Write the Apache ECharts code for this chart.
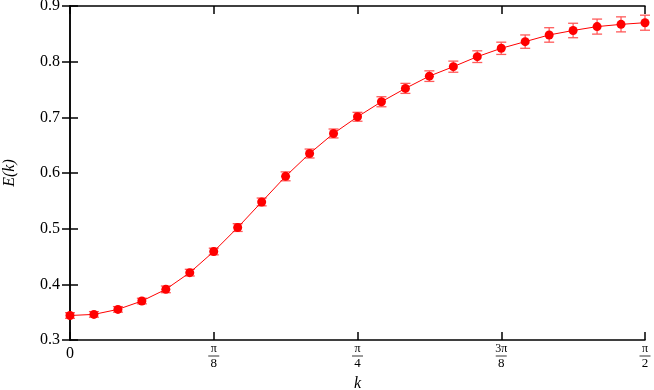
<!DOCTYPE html>
<html>
<head>
<meta charset="utf-8">
<script src="https://cdn.jsdelivr.net/npm/echarts@6/dist/echarts.min.js"></script>
<style>
  html, body { margin: 0; padding: 0; background: #fff; }
  #chart { width: 654px; height: 390px; }
</style>
</head>
<body>
<div id="chart"></div>
<script>
/* E(k) against k, with error bars */

// k in radians, steps of pi/48 from 0 to pi/2
const kValues = [0, 0.0654, 0.1309, 0.1963, 0.2618, 0.3272, 0.3927, 0.4581, 0.5236,
  0.5890, 0.6545, 0.7199, 0.7854, 0.8508, 0.9163, 0.9817, 1.0472, 1.1126, 1.1781,
  1.2435, 1.3090, 1.3744, 1.4399, 1.5053, 1.5708];
const energy = [0.344, 0.346, 0.355, 0.370, 0.391, 0.421, 0.459, 0.502, 0.548,
  0.594, 0.635, 0.671, 0.701, 0.728, 0.752, 0.774, 0.791, 0.809, 0.824,
  0.836, 0.848, 0.856, 0.863, 0.867, 0.870];
const errors = [0.005, 0.005, 0.005, 0.005, 0.006, 0.006, 0.006, 0.007, 0.007,
  0.008, 0.008, 0.008, 0.008, 0.009, 0.009, 0.0095, 0.010, 0.0105, 0.011,
  0.012, 0.013, 0.013, 0.0135, 0.0135, 0.0135];
const xTickNum = ["0", "π", "π", "3π", "π"];
const xTickDen = ["", "8", "4", "8", "2"];

const FONT = "'Liberation Serif', 'DejaVu Serif', serif";
const RED = "#ff0000";
const ERR_RED = "#ff5a5a";

const chart = echarts.init(document.getElementById("chart"), null, { renderer: "canvas" });

function xLabel(v) {
  const i = Math.round(v / 0.3927);
  if (i === 0) return "{z|0}";
  return "{n|" + xTickNum[i] + "}\n{b| }\n{d|" + xTickDen[i] + "}";
}

const axisLine = { show: true, lineStyle: { color: "#000", width: 1.5 } };
const tickIn = { show: true, inside: true, length: 8, lineStyle: { color: "#000", width: 1.5 } };

chart.setOption({
  animation: false,
  grid: { left: 70, right: 9, top: 6, bottom: 50, outerBoundsMode: "none" },
  xAxis: [{
    type: "value", min: 0, max: 1.5708, interval: 0.3927,
    axisLine, axisTick: tickIn, splitLine: { show: false },
    name: "k", nameLocation: "middle", nameGap: 34,
    nameTextStyle: { fontFamily: FONT, fontStyle: "italic", fontSize: 16, color: "#000" },
    axisLabel: {
      margin: 4, formatter: xLabel, color: "#000",
      rich: {
        z: { fontFamily: FONT, fontSize: 16, lineHeight: 17, padding: [2, 0, 0, 0] },
        n: { fontFamily: FONT, fontSize: 12, lineHeight: 10, align: "center" },
        b: { width: 11, height: 0.8, lineHeight: 4, backgroundColor: "#000", align: "center", fontSize: 1 },
        d: { fontFamily: FONT, fontSize: 13, lineHeight: 12, align: "center" },
      },
    },
  }, {
    type: "value", position: "top", min: 0, max: 1.5708, interval: 0.3927,
    axisLine, axisTick: tickIn, axisLabel: { show: false }, splitLine: { show: false },
  }],
  yAxis: [{
    type: "value", min: 0.3, max: 0.9, interval: 0.1,
    axisLine, axisTick: tickIn, splitLine: { show: false },
    name: "E(k)", nameLocation: "middle", nameGap: 52, nameRotate: 90,
    nameTextStyle: { fontFamily: FONT, fontStyle: "italic", fontSize: 16, color: "#000" },
    axisLabel: { margin: 10, formatter: v => v.toFixed(1), fontFamily: FONT, fontSize: 16, color: "#000" },
  }, {
    type: "value", position: "right", min: 0.3, max: 0.9, interval: 0.1,
    axisLine, axisTick: tickIn, axisLabel: { show: false }, splitLine: { show: false },
  }],
  series: [{
    type: "custom",
    data: kValues.map((k, i) => [k, energy[i] - errors[i], energy[i] + errors[i]]),
    clip: false, z: 2,
    renderItem(params, api) {
      const lo = api.coord([api.value(0), api.value(1)]);
      const hi = api.coord([api.value(0), api.value(2)]);
      const w = 5;
      const style = { stroke: ERR_RED, lineWidth: 1.3 };
      return {
        type: "group",
        children: [
          { type: "line", shape: { x1: lo[0], y1: lo[1], x2: hi[0], y2: hi[1] }, style },
          { type: "line", shape: { x1: lo[0] - w, y1: lo[1], x2: lo[0] + w, y2: lo[1] }, style },
          { type: "line", shape: { x1: hi[0] - w, y1: hi[1], x2: hi[0] + w, y2: hi[1] }, style },
        ],
      };
    },
  }, {
    type: "line",
    data: kValues.map((k, i) => [k, energy[i]]),
    clip: false, z: 3,
    symbol: "circle", symbolSize: 9,
    lineStyle: { color: RED, width: 1 },
    itemStyle: { color: RED },
  }],
});
</script>
</body>
</html>
